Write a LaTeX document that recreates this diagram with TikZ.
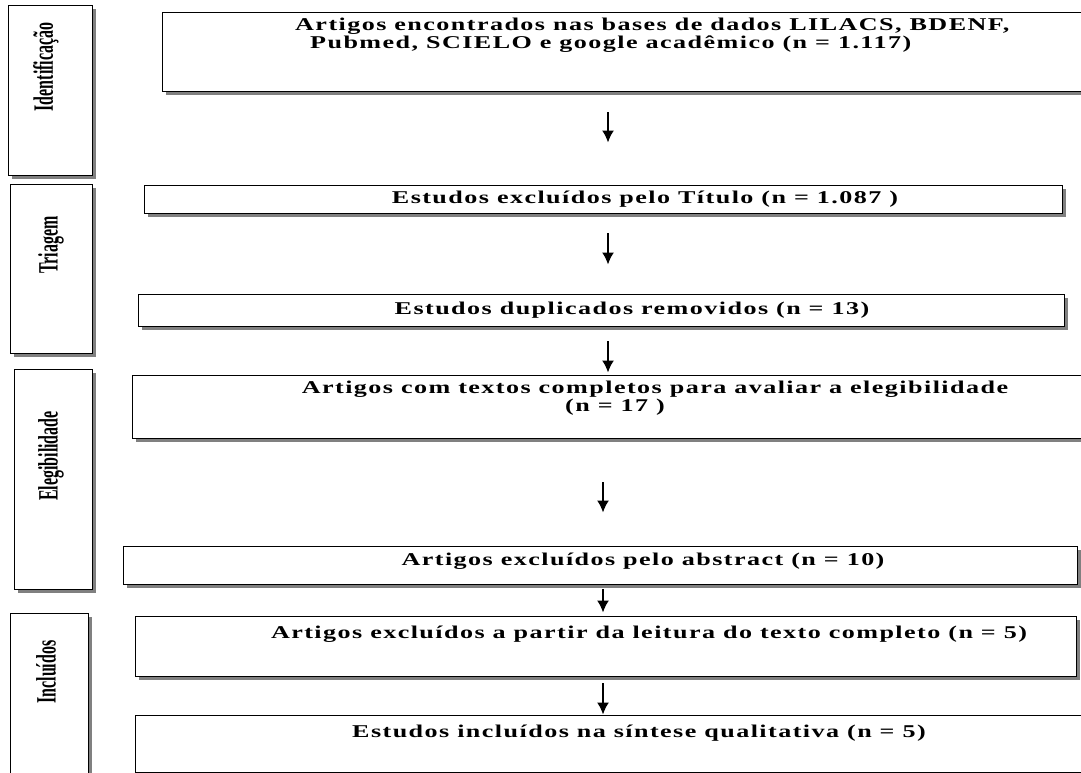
\documentclass[tikz,border=0pt]{standalone}
\usepackage{fontspec}
\setmainfont{Liberation Serif}
\newfontfamily\boxfont[FakeStretch=1.45,LetterSpace=8]{Liberation Serif}
\newfontfamily\stagefont[FakeStretch=0.57]{Liberation Serif}
\usepackage{tikz}
\usetikzlibrary{shapes,arrows.meta,shadows}
\tikzstyle{block} = [draw, line width=0.9pt, fill=white, inner sep=0pt,
  drop shadow={shadow xshift=4pt, shadow yshift=-4pt, fill=gray, opacity=1}]
\tikzstyle{stagetext} = [rotate=90, inner sep=0pt, font=\stagefont\bfseries\fontsize{28}{30}\selectfont]
\tikzstyle{blocktext} = [inner sep=0pt, align=center, font=\boxfont\bfseries\fontsize{18}{16}\selectfont]
\tikzstyle{line} = [draw, line width=1.8pt, -{Latex[length=12pt,width=12pt]}]

\begin{document}
\begin{tikzpicture}[x=1pt,y=-1pt]
  \useasboundingbox (0,0) rectangle (1081,773);
  \clip (0,0) rectangle (1081,773);

  % stages on the left
  \node[block, minimum width=84pt, minimum height=170pt] (ident) at (50,90) {};
  \node[block, minimum width=82pt, minimum height=169pt] (triag) at (51,268.5) {};
  \node[block, minimum width=78pt, minimum height=220pt] (elegi) at (53,479) {};
  \node[block, minimum width=78pt, minimum height=180pt] (inclu) at (49,703) {};
  \node[stagetext] (identtxt) at (46,67) {Identificação};
  \node[stagetext] (triagtxt) at (51,245) {Triagem};
  \node[stagetext] (elegitxt) at (51,456) {Elegibilidade};
  \node[stagetext] (inclutxt) at (46,672) {Incluídos};

  % boxes
  \node[block, minimum width=940pt, minimum height=79pt] (found) at (632,51.5) {};
  \node[block, minimum width=918pt, minimum height=28pt] (title) at (603,199) {};
  \node[block, minimum width=926pt, minimum height=32pt] (dupl) at (601,310) {};
  \node[block, minimum width=970pt, minimum height=63pt] (full) at (617,406.5) {};
  \node[block, minimum width=954pt, minimum height=38pt] (abstr) at (600,565) {};
  \node[block, minimum width=941pt, minimum height=60pt] (read) at (605.5,646) {};
  \node[block, minimum width=970pt, minimum height=57pt] (incl) at (620,743.5) {};

  % texts
  \node[blocktext, align=left, anchor=west] (foundtxt) at (295,35)
    {Artigos encontrados nas bases de dados LILACS, BDENF,\\\hspace*{15pt}Pubmed, SCIELO e google acadêmico (n = 1.117)};
  \node[blocktext] (titletxt) at (645,199) {Estudos excluídos pelo Título (n = 1.087 )};
  \node[blocktext] (dupltxt) at (632,310) {Estudos duplicados removidos (n = 13)};
  \node[blocktext] (fulltxt) at (655,398)
    {Artigos com textos completos para avaliar a elegibilidade\\(n = 17 )\hspace*{80pt}};
  \node[blocktext] (abstrtxt) at (643,561) {Artigos excluídos pelo abstract (n = 10)};
  \node[blocktext] (readtxt) at (649,634) {Artigos excluídos a partir da leitura do texto completo (n = 5)};
  \node[blocktext] (incltxt) at (639,733) {Estudos incluídos na síntese qualitativa (n = 5)};

  % arrows
  \coordinate (ax) at (608,0);
  \coordinate (bx) at (603,0);
  \draw[line, shorten <=21pt, shorten >=42pt] (found.south -| ax) -- (title.north -| ax);
  \draw[line, shorten <=20pt, shorten >=29pt] (title.south -| ax) -- (dupl.north -| ax);
  \draw[line, shorten <=15pt, shorten >=2pt] (dupl.south -| ax) -- (full.north -| ax);
  \draw[line, shorten <=44pt, shorten >=33pt] (full.south -| bx) -- (abstr.north -| bx);
  \draw[line, shorten <=5pt, shorten >=3pt] (abstr.south -| bx) -- (read.north -| bx);
  \draw[line, shorten <=7pt, shorten >=0pt] (read.south -| bx) -- (incl.north -| bx);
\end{tikzpicture}
\end{document}
